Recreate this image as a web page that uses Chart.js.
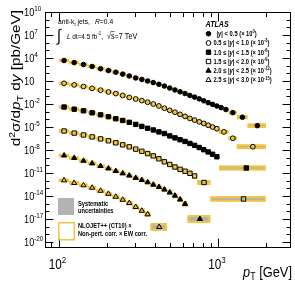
<!DOCTYPE html>
<html>
<head>
<meta charset="utf-8">
<script src="https://cdn.jsdelivr.net/npm/chart.js@4.4.1/dist/chart.umd.min.js"></script>
<style>
  html, body { margin: 0; padding: 0; background: #fff; }
  canvas { display: block; }
</style>
</head>
<body>
<canvas id="chart1" width="295" height="286"></canvas>
<script>
// pT bin edges [GeV] per rapidity bin
const ptEdges1 = [100,116,134,152,172,194,216,240,264,290,318,346,376,408,442,478,516,556,598,642,688,736,786,838,894,952,1012,1076,1162,1310,1530,1992];
const ptEdges2 = [100,116,134,152,172,194,216,240,264,290,318,346,376,408,442,478,516,556,598,642,688,736,786,838,894,952,1012,1162,1310,1992];
const ptEdges3 = [100,116,134,152,172,194,216,240,264,290,318,346,376,408,442,478,516,556,598,642,688,736,786,838,894,952,1012,1992];
const ptEdges4 = [100,116,134,152,172,194,216,240,264,290,318,346,376,408,442,478,516,556,598,642,688,736,894,1992];
const ptEdges5 = [100,116,134,152,172,194,216,240,264,290,318,346,376,408,442,478,516,556,598,642,894];
const ptEdges6 = [100,116,134,152,172,194,216,240,264,290,318,346,376,478];

// measured cross sections [pb/GeV], before the (x 10^n) offsets
const xsec1 = [4.7e3,2.5e3,1.4e3,7.8e2,4.0e2,2.3e2,1.4e2,79,45,25,16,10,6.2,3.7,2.2,1.2,0.68,0.39,0.23,0.13,0.079,0.047,0.026,0.015,0.0089,0.0055,0.0034,0.0019,7.4e-4,1.9e-4,1.5e-5];
const xsec2 = [5.0e3,3.1e3,1.9e3,1.1e3,6.3e2,3.7e2,2.3e2,1.3e2,72,45,28,17,10,5.5,2.8,1.5,0.85,0.44,0.24,0.13,0.079,0.047,0.029,0.017,0.010,0.006,0.0023,3.4e-4,2.7e-5];
const xsec3 = [4.0e3,2.1e3,1.3e3,7.1e2,3.9e2,2.2e2,1.2e2,71,41,22,12,6.8,4.1,2.3,1.4,0.69,0.38,0.22,0.13,0.072,0.040,0.021,0.011,0.0056,0.0028,0.0013,4.5e-5];
const xsec4 = [3.0e3,1.6e3,9.1e2,5.1e2,2.8e2,1.6e2,87,47,26,13,6.8,3.4,1.7,0.71,0.29,0.13,0.060,0.030,0.017,0.0091,0.0041,5.8e-4,4.1e-6];
const xsec5 = [1.9e3,9.1e2,3.9e2,1.8e2,81,39,18,8.9,4.6,2.3,1.2,0.62,0.30,0.15,0.069,0.029,0.011,0.0035,9.1e-4,1.0e-5];
const xsec6 = [1.1e3,5.0e2,2.5e2,1.2e2,48,19,7.9,3.2,1.2,0.37,0.12,0.041,9.1e-4];

// relative theory (NLOJET++) and systematic uncertainties
const thyUnc1 = [0.05,0.05,0.05,0.05,0.05,0.05,0.05,0.05,0.06,0.06,0.06,0.06,0.06,0.07,0.07,0.07,0.08,0.08,0.08,0.09,0.09,0.10,0.10,0.11,0.12,0.13,0.14,0.16,0.18,0.22,0.30];
const sysUnc1 = [0.07,0.06,0.06,0.05,0.05,0.05,0.05,0.05,0.05,0.05,0.05,0.05,0.06,0.06,0.06,0.06,0.07,0.07,0.07,0.08,0.08,0.09,0.09,0.10,0.11,0.12,0.13,0.15,0.18,0.25,0.45];
const thyUnc2 = [0.05,0.05,0.05,0.05,0.05,0.05,0.05,0.05,0.06,0.06,0.06,0.06,0.06,0.06,0.07,0.07,0.08,0.08,0.09,0.09,0.10,0.11,0.12,0.13,0.14,0.16,0.19,0.24,0.32];
const sysUnc2 = [0.07,0.06,0.06,0.05,0.05,0.05,0.05,0.05,0.05,0.05,0.05,0.06,0.06,0.06,0.06,0.07,0.07,0.08,0.08,0.09,0.09,0.10,0.11,0.12,0.13,0.15,0.18,0.25,0.45];
const thyUnc3 = [0.06,0.06,0.06,0.06,0.06,0.06,0.06,0.06,0.07,0.07,0.07,0.07,0.07,0.07,0.08,0.08,0.09,0.10,0.10,0.11,0.12,0.13,0.15,0.16,0.18,0.20,0.40];
const sysUnc3 = [0.08,0.07,0.07,0.06,0.06,0.06,0.06,0.06,0.06,0.06,0.07,0.07,0.07,0.08,0.08,0.09,0.09,0.10,0.11,0.12,0.13,0.14,0.16,0.18,0.20,0.23,0.55];
const thyUnc4 = [0.07,0.07,0.07,0.07,0.07,0.08,0.08,0.08,0.09,0.09,0.10,0.11,0.12,0.13,0.14,0.16,0.18,0.20,0.22,0.25,0.28,0.35,0.50];
const sysUnc4 = [0.09,0.08,0.08,0.07,0.07,0.07,0.07,0.08,0.08,0.09,0.10,0.11,0.12,0.13,0.15,0.17,0.19,0.22,0.25,0.28,0.32,0.40,0.65];
const thyUnc5 = [0.08,0.08,0.08,0.09,0.09,0.10,0.10,0.11,0.12,0.13,0.15,0.17,0.19,0.22,0.25,0.29,0.34,0.40,0.48,1.10];
const sysUnc5 = [0.10,0.09,0.09,0.09,0.10,0.10,0.11,0.12,0.14,0.16,0.18,0.21,0.24,0.28,0.32,0.37,0.43,0.50,0.60,0.85];
const thyUnc6 = [0.10,0.10,0.11,0.12,0.13,0.15,0.17,0.20,0.24,0.29,0.35,0.42,1.10];
const sysUnc6 = [0.12,0.12,0.13,0.15,0.17,0.20,0.24,0.29,0.35,0.42,0.50,0.60,0.90];

// rapidity bins and their plotting offsets
const rapLo = [0, 0.5, 1.0, 1.5, 2.0, 2.5];
const rapHi = [0.5, 1.0, 1.5, 2.0, 2.5, 3.0];
const scaleExps = [0, -3, -6, -9, -12, -15];

// axis labels
const yTickExps = [10, 7, 4, 1, -2, -5, -8, -11, -14, -17, -20];
const xTickExps = [2, 3];

const YELLOW = '#f1c63e';
const GREY = '#b3b3b3';
const FAM = '"Liberation Sans", Arial, Helvetica, sans-serif';
const SQ = 0.84; // text is a bit narrower than its height in the original

const series = [
  { edges: ptEdges1, xsec: xsec1, thy: thyUnc1, sys: sysUnc1, style: 'circle', fill: true, r: 2.3 },
  { edges: ptEdges2, xsec: xsec2, thy: thyUnc2, sys: sysUnc2, style: 'circle', fill: false, r: 2.4 },
  { edges: ptEdges3, xsec: xsec3, thy: thyUnc3, sys: sysUnc3, style: 'rect', fill: true, r: 3.1 },
  { edges: ptEdges4, xsec: xsec4, thy: thyUnc4, sys: sysUnc4, style: 'rect', fill: false, r: 3.1 },
  { edges: ptEdges5, xsec: xsec5, thy: thyUnc5, sys: sysUnc5, style: 'triangle', fill: true, r: 3.0 },
  { edges: ptEdges6, xsec: xsec6, thy: thyUnc6, sys: sysUnc6, style: 'triangle', fill: false, r: 3.0 }
];

// rich text: runs of {t, f (font style), v (1 sup, -1 sub), o (overline)}
const S = (t, f = '', v = 0, o = false) => ({ t, f, v, o });

function segFont(s, size) {
  return `${s.f} ${(s.v ? size * 0.68 : size).toFixed(2)}px ${FAM}`;
}

function drawText(ctx, segs, x, y, size, align = 'left', rot = false) {
  ctx.save();
  ctx.translate(x, y);
  if (rot) { ctx.rotate(-Math.PI / 2); ctx.scale(1, SQ); } else ctx.scale(SQ, 1);
  let w = 0;
  for (const s of segs) { ctx.font = segFont(s, size); w += ctx.measureText(s.t).width; }
  let cx = align === 'right' ? -w : align === 'center' ? -w / 2 : 0;
  ctx.fillStyle = '#000';
  ctx.strokeStyle = '#000';
  ctx.textAlign = 'left';
  ctx.textBaseline = 'alphabetic';
  for (const s of segs) {
    ctx.font = segFont(s, size);
    const dy = s.v > 0 ? -size * 0.42 : s.v < 0 ? size * 0.22 : 0;
    ctx.fillText(s.t, cx, dy);
    const sw = ctx.measureText(s.t).width;
    if (s.o) {
      ctx.lineWidth = 0.7;
      ctx.beginPath();
      ctx.moveTo(cx - 0.5, dy - size * 0.8);
      ctx.lineTo(cx + sw, dy - size * 0.8);
      ctx.stroke();
    }
    cx += sw;
  }
  ctx.restore();
}

function marker(ctx, s, x, y) {
  ctx.save();
  ctx.fillStyle = s.fill ? '#000' : 'rgba(0,0,0,0)';
  ctx.strokeStyle = '#000';
  ctx.lineWidth = 1;
  Chart.helpers.drawPoint(ctx, { pointStyle: s.style, radius: s.r, borderWidth: 1, rotation: 0 }, x, y);
  ctx.restore();
}

// grey systematic boxes and yellow theory boxes, one per pT bin
const bands = {
  id: 'bands',
  beforeDatasetsDraw(chart) {
    const { ctx, chartArea: a, scales: { x, y } } = chart;
    ctx.save();
    ctx.beginPath();
    ctx.rect(a.left, a.top, a.right - a.left, a.bottom - a.top);
    ctx.clip();
    series.forEach((s, k) => {
      const f = Math.pow(10, scaleExps[k]);
      s.xsec.forEach((v, i) => {
        const x0 = x.getPixelForValue(s.edges[i]);
        const x1 = x.getPixelForValue(s.edges[i + 1]);
        const val = v * f;
        const g0 = y.getPixelForValue(val * (1 + s.sys[i]));
        const g1 = y.getPixelForValue(val / (1 + s.sys[i]));
        ctx.fillStyle = GREY;
        ctx.fillRect(x0, g0, x1 - x0, g1 - g0);
        const t0 = y.getPixelForValue(val * (1 + s.thy[i]));
        const t1 = y.getPixelForValue(val / (1 + s.thy[i]));
        ctx.strokeStyle = YELLOW;
        ctx.lineWidth = 2;
        ctx.strokeRect(x0 + 1, t0 - 0.5, x1 - x0 - 2, t1 - t0 + 1);
      });
    });
    ctx.restore();
  }
};

// frame with inward ticks on all sides, axis labels, legends
const frame = {
  id: 'frame',
  afterDraw(chart) {
    const { ctx, chartArea: a, scales: { x, y } } = chart;
    ctx.save();
    ctx.strokeStyle = '#000';
    ctx.lineWidth = 1;
    const L = Math.round(a.left) + 0.5, R = Math.round(a.right) - 0.5;
    const T = Math.round(a.top) + 0.5, B = Math.round(a.bottom) - 0.5;
    ctx.strokeRect(L, T, R - L, B - T);

    ctx.beginPath();
    for (let e = -20; e <= 10; e++) {
      const py = Math.round(y.getPixelForValue(Math.pow(10, e))) + 0.5;
      const len = (e + 20) % 3 === 0 ? 8 : 4;
      ctx.moveTo(L, py); ctx.lineTo(L + len, py);
      ctx.moveTo(R, py); ctx.lineTo(R - len, py);
    }
    for (let d = 1; d <= 3; d++) {
      for (let m = 1; m <= 9; m++) {
        const v = m * Math.pow(10, d);
        if (v < x.min || v > x.max) continue;
        const px = Math.round(x.getPixelForValue(v)) + 0.5;
        const len = m === 1 ? 9 : 4.5;
        ctx.moveTo(px, B); ctx.lineTo(px, B - len);
        ctx.moveTo(px, T); ctx.lineTo(px, T + len);
      }
    }
    ctx.stroke();

    yTickExps.forEach(e => {
      const py = y.getPixelForValue(Math.pow(10, e));
      const segs = e === 1 ? [S('10')] : [S('10'), S(String(e), '', 1)];
      drawText(ctx, segs, 24, py + 4, 11);
    });
    xTickExps.forEach(e => {
      const px = x.getPixelForValue(Math.pow(10, e));
      drawText(ctx, [S('10'), S(String(e), '', 1)], px - 10, 268.5, 14);
    });

    drawText(ctx, [S('p', 'italic'), S('T', '', -1), S(' [GeV]')], 292, 277, 15.3, 'right');
    drawText(ctx, [S('d'), S('2', '', 1), S('σ/d'), S('p', 'italic'), S('T', '', -1), S(' d'), S('y', 'italic'), S(' [pb/GeV]')], 20, 10, 15.3, 'right', true);

    // run info
    drawText(ctx, [S('anti-k'), S('t', '', -1), S(' jets,')], 58, 24, 8);
    drawText(ctx, [S('R', 'italic'), S('=0.4')], 95, 24, 8);
    drawText(ctx, [S('∫')], 57, 41, 17);
    drawText(ctx, [S('L', 'italic'), S(' dt=4.5 fb'), S('-1', '', 1), S(',')], 67, 38.5, 7.6);
    drawText(ctx, [S('√'), S('s', '', 0, true), S('=7 TeV')], 107, 38.5, 8.6);

    // rapidity legend
    drawText(ctx, [S('ATLAS', 'bold italic')], 205.5, 27, 8.5);
    series.forEach((s, k) => {
      const ry = 33.7 + k * 9.26;
      marker(ctx, s, 208.5, ry);
      const segs = [];
      if (k > 0) segs.push(S(rapLo[k].toFixed(1) + ' ≤ ', 'bold'));
      segs.push(S('|', 'bold'), S('y', 'bold italic'), S('| < ' + rapHi[k].toFixed(1) + ' (× 10', 'bold'),
        S(String(scaleExps[k]), 'bold', 1), S(')', 'bold'));
      drawText(ctx, segs, k === 0 ? 216.5 : 213.5, ry + 2.4, 6.9);
    });

    // uncertainty legend
    ctx.fillStyle = GREY;
    ctx.fillRect(58, 198, 16, 17);
    ctx.strokeStyle = YELLOW;
    ctx.lineWidth = 1.5;
    ctx.strokeRect(58.75, 222.75, 15.5, 17);
    drawText(ctx, [S('Systematic', 'bold')], 78, 205.5, 6.8);
    drawText(ctx, [S('uncertainties', 'bold')], 78, 213.3, 6.8);
    drawText(ctx, [S('NLOJET++ (CT10) ×', 'bold')], 78, 228.3, 6.8);
    drawText(ctx, [S('Non-pert. corr. × EW corr.', 'bold')], 78, 236.3, 6.8);
    ctx.restore();
  }
};

const ctx = document.getElementById('chart1');

new Chart(ctx, {
  type: 'scatter',
  data: {
    datasets: series.map((s, k) => ({
      data: s.xsec.map((v, i) => ({
        x: (s.edges[i] + s.edges[i + 1]) / 2,
        y: v * Math.pow(10, scaleExps[k])
      })),
      pointStyle: s.style,
      pointRadius: s.r,
      pointHoverRadius: s.r,
      backgroundColor: s.fill ? '#000' : 'rgba(0,0,0,0)',
      borderColor: '#000',
      borderWidth: 1,
      showLine: false
    }))
  },
  options: {
    responsive: false,
    animation: false,
    devicePixelRatio: 1,
    events: [],
    layout: { padding: { left: 45, right: 3, top: 12, bottom: 38 } },
    plugins: { legend: { display: false }, tooltip: { enabled: false } },
    scales: {
      x: { type: 'logarithmic', min: 82, max: 2860, display: false },
      y: { type: 'logarithmic', min: 1.65e-21, max: 1e10, display: false }
    }
  },
  plugins: [bands, frame]
});
</script>
</body>
</html>
